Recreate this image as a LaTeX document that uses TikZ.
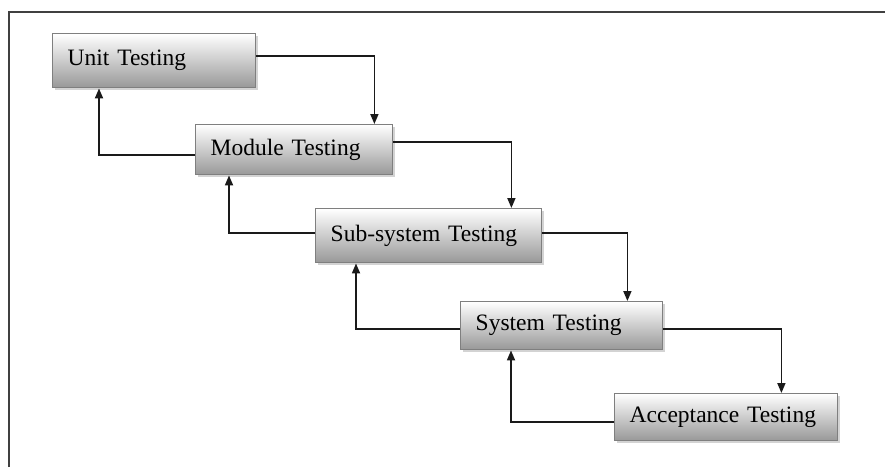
\documentclass[tikz,border=0pt]{standalone}
\usepackage{fontspec}
\setmainfont{Liberation Serif}
\usetikzlibrary{arrows.meta, shadows}
\definecolor{BoxEdge}{HTML}{7F7F7F}
\definecolor{BoxLow}{HTML}{989898}
\definecolor{LineDark}{HTML}{1A1A1A}

\begin{document}
\begin{tikzpicture}[x=1pt, y=-1pt,
    font=\fontsize{23.5}{28}\selectfont,
    testbox/.style={draw=BoxEdge, line width=1.4pt, top color=white, bottom color=BoxLow,
        anchor=north west, align=left, inner xsep=15pt, inner ysep=0pt,
        drop shadow={shadow xshift=2pt, shadow yshift=-2pt, opacity=0.35}},
    flow/.style={draw=LineDark, line width=1.7pt, -{Triangle[length=10pt, width=8pt]}}]
                \useasboundingbox (0,0) rectangle (885,467);
                % frame
                \draw[line width=1.8pt, black!75] (9,467) -- (9,12) -- (885,12);

                \node[testbox, text width=173pt, minimum height=54pt] (unit) at (52,33) {Unit Testing};
                \node[testbox, text width=167pt, minimum height=50pt] (module) at (195,124) {Module Testing};
                \node[testbox, text width=196pt, minimum height=54pt] (subsys) at (315,208) {Sub-system Testing};
                \node[testbox, text width=172pt, minimum height=48pt] (system) at (460,301) {System Testing};
                \node[testbox, text width=193pt, minimum height=47pt] (accept) at (614,393) {Acceptance Testing};

                \draw[flow] ([yshift=5pt]unit.east) -| ([xshift=-19pt]module.north east);
                \draw[flow] ([yshift=8pt]module.east) -| ([xshift=-31pt]subsys.north east);
                \draw[flow] ([yshift=3pt]subsys.east) -| ([xshift=-36pt]system.north east);
                \draw[flow] ([yshift=-3pt]system.east) -| ([xshift=-57pt]accept.north east);

                % feedback
                \draw[flow] ([yshift=-5pt]module.west) -| ([xshift=47pt]unit.south west);
                \draw[flow] ([yshift=3pt]subsys.west) -| ([xshift=34pt]module.south west);
                \draw[flow] ([yshift=-3pt]system.west) -| ([xshift=41pt]subsys.south west);
                \draw[flow] ([yshift=-5pt]accept.west) -| ([xshift=51pt]system.south west);
            \end{tikzpicture}
\end{document}
